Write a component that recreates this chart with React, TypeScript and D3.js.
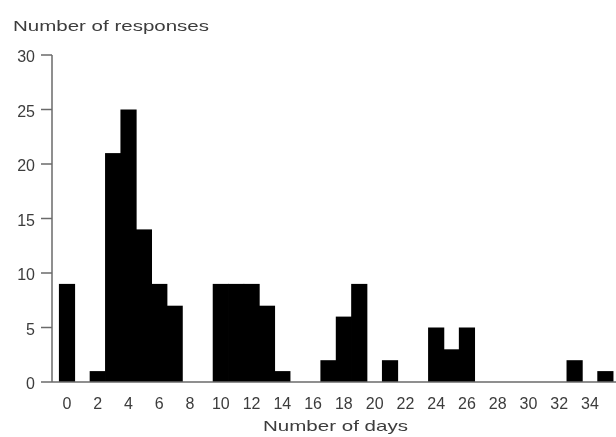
import React from 'react';
import * as d3 from 'd3';

// counts of responses per day (0..35)
const days = [0, 1, 2, 3, 4, 5, 6, 7, 8, 9, 10, 11, 12, 13, 14, 15, 16, 17, 18, 19, 20, 21, 22, 23, 24, 25, 26, 27, 28, 29, 30, 31, 32, 33, 34, 35];
const counts = [9, 0, 1, 21, 25, 14, 9, 7, 0, 0, 9, 9, 9, 7, 1, 0, 0, 2, 6, 9, 0, 2, 0, 0, 5, 3, 5, 0, 0, 0, 0, 0, 0, 2, 0, 1];
const xTicks = [0, 2, 4, 6, 8, 10, 12, 14, 16, 18, 20, 22, 24, 26, 28, 30, 32, 34];
const yTicks = [0, 5, 10, 15, 20, 25, 30];

const W = 616;
const H = 437;

const App: React.FC = () => {
  const x = d3.scaleLinear().domain([0, 34]).range([67, 590]);
  const y = d3.scaleLinear().domain([0, 30]).range([382, 55]);
  const axisX = 52;
  const font = "'Liberation Sans', Arial, sans-serif";
  const textColor = '#3c3c3c';
  const lineColor = '#6a6a6a';

  return (
    <svg width={W} height={H} style={{ position: 'absolute', left: 0, top: 0, background: '#fff' }}>
      <defs>
        <filter id="soft" x="-5%" y="-5%" width="110%" height="110%">
          <feGaussianBlur stdDeviation="0.55" />
        </filter>
      </defs>
      <g filter="url(#soft)">
        {/* title */}
        <text x={13} y={31} fontFamily={font} fontSize={15} fill={textColor}
          textLength={196} lengthAdjust="spacingAndGlyphs">Number of responses</text>

        {/* bars — slightly widened so neighbours merge without seams */}
        {days.map((d, i) => counts[i] > 0 && (
          <rect key={d}
            x={x(d - 0.5) - 0.4}
            y={y(counts[i])}
            width={x(d + 0.5) - x(d - 0.5) + 0.8}
            height={y(0) - y(counts[i])}
            fill="#000" />
        ))}

        {/* y axis */}
        <line x1={axisX} x2={axisX} y1={y(30)} y2={y(0)} stroke={lineColor} strokeWidth={1.5} />
        {yTicks.map(t => (
          <g key={t}>
            <line x1={axisX - 11} x2={axisX} y1={y(t)} y2={y(t)} stroke={lineColor} strokeWidth={1.5} />
            <text x={35} y={y(t) + 7} textAnchor="end" fontFamily={font} fontSize={16} fill={textColor}>{t}</text>
          </g>
        ))}

        {/* x axis */}
        <line x1={axisX} x2={W} y1={y(0)} y2={y(0)} stroke={lineColor} strokeWidth={1.5} />
        {xTicks.map(t => (
          <text key={t} x={x(t)} y={409} textAnchor="middle" fontFamily={font} fontSize={16} fill={textColor}>{t}</text>
        ))}
        <text x={263} y={431} fontFamily={font} fontSize={15} fill={textColor}
          textLength={145} lengthAdjust="spacingAndGlyphs">Number of days</text>
      </g>
    </svg>
  );
};

export default App;
